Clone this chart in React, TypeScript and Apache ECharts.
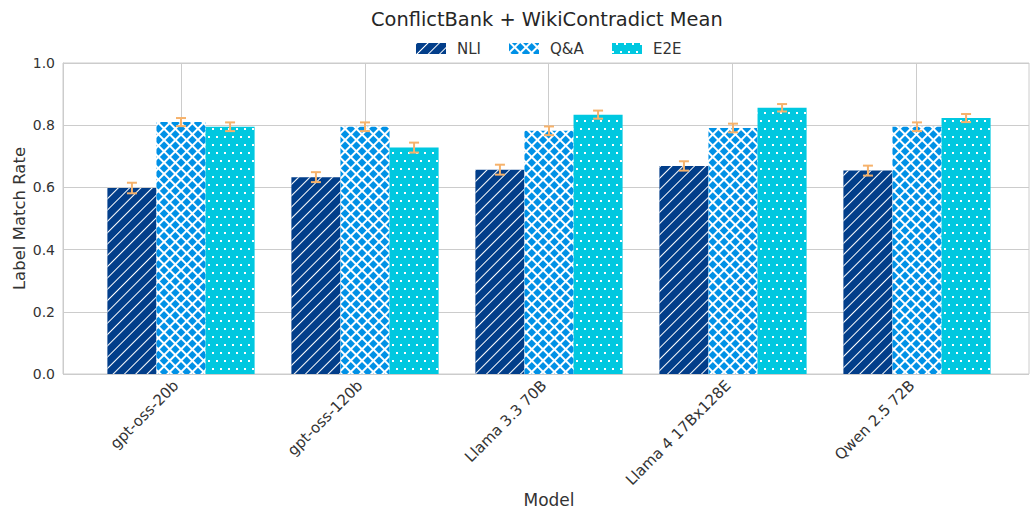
import React, { useEffect, useRef } from "react";
import * as echarts from "echarts";

const categories = ["gpt-oss-20b", "gpt-oss-120b", "Llama 3.3 70B", "Llama 4 17Bx128E", "Qwen 2.5 72B"];
const seriesNames = ["NLI", "Q&A", "E2E"];
const nliValues = [0.598, 0.633, 0.657, 0.669, 0.654];
const qaValues = [0.81, 0.795, 0.782, 0.791, 0.795];
const e2eValues = [0.795, 0.728, 0.834, 0.856, 0.823];
const nliErr = [0.017, 0.016, 0.016, 0.015, 0.016];
const qaErr = [0.013, 0.014, 0.014, 0.014, 0.014];
const e2eErr = [0.014, 0.016, 0.013, 0.012, 0.013];
const yTicks = [0, 0.2, 0.4, 0.6, 0.8, 1.0];

const FONT = "DejaVu Sans";
const GRID_C = "#cccccc";
const TEXT_C = "#333333";

export default function App() {
  const ref = useRef<HTMLDivElement>(null);
  useEffect(() => {
    if (!ref.current) return;
    const chart = echarts.init(ref.current, null, { renderer: "svg" });
    const values = [nliValues, qaValues, e2eValues];
    const errs = [nliErr, qaErr, e2eErr];
    const errData: number[][] = [];
    values.forEach((vals, s) => {
      vals.forEach((v, i) => {
        errData.push([i, v - errs[s][i], v + errs[s][i], s]);
      });
    });

    const decals: any[] = [
      {
        symbol: "rect",
        symbolSize: 1,
        color: "#ffffff",
        dashArrayX: [1, 0],
        dashArrayY: [1.0, 6.1],
        rotation: -Math.PI / 4,
      },
      {
        symbol: "rect",
        symbolSize: 1,
        color: "#0091e6",
        dashArrayX: [6, 1.2],
        dashArrayY: [6, 1.2],
        rotation: Math.PI / 4,
      },
      {
        symbol: "rect",
        symbolSize: 1,
        color: "#ffffff",
        dashArrayX: [[2, 5.3], [0, 3.65, 2, 1.65]],
        dashArrayY: [2, 5.3],
        rotation: 0,
      },
    ];
    const baseColors = ["#023e8a", "#ffffff", "#00c8e0"];
    const legendLeft = [416, 509, 612];

    const gridCommon = { top: 63, bottom: 137, outerBoundsMode: "none", containLabel: false };

    const option: any = {
      animation: false,
      backgroundColor: "#ffffff",
      textStyle: { fontFamily: FONT },
      title: {
        text: "ConflictBank + WikiContradict Mean",
        left: 371,
        top: 10,
        padding: 0,
        textStyle: { fontFamily: FONT, fontSize: 19.4, fontWeight: "normal", color: "#262626" },
      },
      legend: seriesNames.map((n, i) => ({
        data: [n],
        left: legendLeft[i],
        top: 41,
        padding: 0,
        itemWidth: 30,
        itemHeight: 11,
        icon: "rect",
        textStyle: { fontFamily: FONT, fontSize: 15, color: TEXT_C, padding: [0, 0, 0, 6] },
      })),
      grid: [
        { ...gridCommon, left: 63, right: 1, show: true, borderColor: GRID_C, borderWidth: 1, backgroundColor: "transparent" },
        { ...gridCommon, left: 89, right: 21 },
        { ...gridCommon, left: 181, right: 114 },
      ],
      xAxis: [
        { type: "value", gridIndex: 0, min: 0, max: 1, show: false },
        {
          type: "category",
          gridIndex: 1,
          data: categories,
          axisLine: { show: false },
          axisTick: { show: false },
          splitLine: { show: false },
          axisLabel: {
            interval: 0,
            rotate: 45,
            fontSize: 15,
            color: TEXT_C,
            fontFamily: FONT,
            margin: 4,
            padding: [0, 7, 0, 0],
          },
          name: "Model",
          nameLocation: "middle",
          nameGap: 117,
          nameMoveOverlap: false,
          nameTextStyle: { fontSize: 17, color: TEXT_C, fontFamily: FONT },
        },
        {
          type: "category",
          gridIndex: 2,
          data: categories,
          boundaryGap: false,
          axisLine: { show: false },
          axisTick: { show: false },
          axisLabel: { show: false },
          splitLine: { show: true, lineStyle: { color: GRID_C, width: 1 } },
        },
      ],
      yAxis: [
        {
          type: "value",
          gridIndex: 0,
          min: 0,
          max: 1,
          interval: 0.2,
          axisLine: { show: true, lineStyle: { color: GRID_C } },
          axisTick: { show: false },
          splitLine: { show: true, lineStyle: { color: GRID_C, width: 1 } },
          axisLabel: {
            fontSize: 14,
            color: TEXT_C,
            fontFamily: FONT,
            margin: 8,
            formatter: (v: number) => {
              const t = yTicks.find((x) => Math.abs(x - v) < 1e-9);
              return (t !== undefined ? t : v).toFixed(1);
            },
          },
          name: "Label Match Rate",
          nameLocation: "middle",
          nameGap: 35,
          nameMoveOverlap: false,
          nameTextStyle: { fontSize: 16.5, color: TEXT_C, fontFamily: FONT },
        },
        { type: "value", gridIndex: 1, min: 0, max: 1, show: false },
        { type: "value", gridIndex: 2, min: 0, max: 1, show: false },
      ],
      series: [
        { type: "line", xAxisIndex: 0, yAxisIndex: 0, data: [], silent: true },
        { type: "line", xAxisIndex: 2, yAxisIndex: 2, data: [], silent: true },
        ...seriesNames.map((n, s) => ({
          name: n,
          type: "bar",
          xAxisIndex: 1,
          yAxisIndex: 1,
          barWidth: "26.67%",
          barGap: "0%",
          data: values[s],
          itemStyle: { color: baseColors[s], decal: decals[s] },
          emphasis: { disabled: true },
          z: 3,
        })),
        {
          type: "custom",
          xAxisIndex: 1,
          yAxisIndex: 1,
          data: errData,
          z: 10,
          clip: false,
          silent: true,
          renderItem: (params: any, api: any) => {
            const cat = api.value(0);
            const lo = api.value(1);
            const hi = api.value(2);
            const s = api.value(3);
            const band = api.size([1, 0])[0];
            const bw = (band * 0.8) / 3;
            const pLo = api.coord([cat, lo]);
            const pHi = api.coord([cat, hi]);
            const x = pLo[0] + (s - 1) * bw;
            const cap = 5;
            const st = { stroke: "#f6b26b", lineWidth: 2, fill: "none" };
            return {
              type: "group",
              children: [
                { type: "line", shape: { x1: x, y1: pLo[1], x2: x, y2: pHi[1] }, style: st },
                { type: "line", shape: { x1: x - cap, y1: pLo[1], x2: x + cap, y2: pLo[1] }, style: st },
                { type: "line", shape: { x1: x - cap, y1: pHi[1], x2: x + cap, y2: pHi[1] }, style: st },
              ],
            };
          },
        },
      ],
    };
    chart.setOption(option);
    return () => chart.dispose();
  }, []);
  return <div ref={ref} style={{ position: "absolute", left: 0, top: 0, width: 1030, height: 511 }} />;
}
